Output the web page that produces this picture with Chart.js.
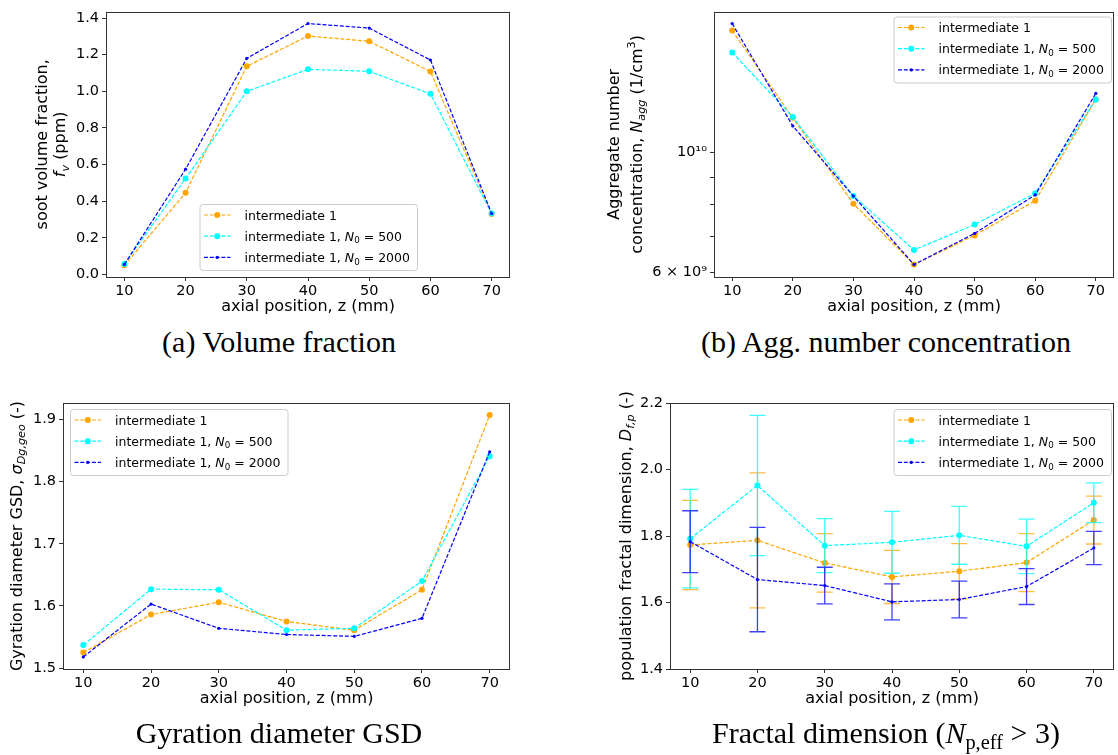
<!DOCTYPE html>
<html><head><meta charset="utf-8">
<script src="https://cdn.jsdelivr.net/npm/chart.js@4.4.1/dist/chart.umd.min.js"></script>
<style>
html,body{margin:0;padding:0;background:#fff;width:1118px;height:755px;overflow:hidden;position:relative;}
canvas{position:absolute;}
.cap{position:absolute;width:560px;text-align:center;font-family:"Liberation Serif","Times New Roman",serif;font-size:30px;line-height:30px;color:#000;white-space:nowrap;}
.cap sub{font-size:0.68em;line-height:0;vertical-align:-0.28em;}
</style></head><body>
<canvas id="ca" width="559" height="325" style="left:0;top:0"></canvas>
<canvas id="cb" width="559" height="325" style="left:559px;top:0"></canvas>
<canvas id="cc" width="559" height="340" style="left:0;top:378px"></canvas>
<canvas id="cd" width="559" height="340" style="left:559px;top:378px"></canvas>
<div class="cap" style="left:-1px;top:327px">(a) Volume fraction</div>
<div class="cap" style="left:606px;top:327px">(b) Agg. number concentration</div>
<div class="cap" style="left:-1px;top:718px">Gyration diameter GSD</div>
<div class="cap" style="left:606px;top:718px">Fractal dimension (<i>N</i><sub>p,eff</sub> &gt; 3)</div>
<script>
// ---------------- data ----------------
const Z = [10, 20, 30, 40, 50, 60, 70];
const xTicks = [10, 20, 30, 40, 50, 60, 70];

// (a) soot volume fraction (ppm)
const fvInt1  = [0.050, 0.446, 1.137, 1.302, 1.273, 1.108, 0.330];
const fvN500  = [0.058, 0.524, 1.000, 1.120, 1.109, 0.986, 0.333];
const fvN2000 = [0.055, 0.575, 1.180, 1.370, 1.345, 1.171, 0.333];
const fvTicks = [0.0, 0.2, 0.4, 0.6, 0.8, 1.0, 1.2, 1.4];

// (b) aggregate number concentration (1/cm3)
const naggInt1  = [1.68e10, 1.158e10, 8.03e9, 6.20e9, 7.02e9, 8.14e9, 1.252e10];
const naggN500  = [1.53e10, 1.162e10, 8.30e9, 6.60e9, 7.35e9, 8.40e9, 1.252e10];
const naggN2000 = [1.73e10, 1.119e10, 8.30e9, 6.20e9, 7.08e9, 8.34e9, 1.285e10];
const naggTicks = [6e9, 7e9, 8e9, 9e9, 1e10];
const naggTickLabels = ['6 × 10⁹', '', '', '', '10¹⁰'];

// (c) gyration diameter GSD
const gsdInt1  = [1.525, 1.586, 1.606, 1.575, 1.561, 1.626, 1.907];
const gsdN500  = [1.537, 1.627, 1.626, 1.561, 1.564, 1.640, 1.841];
const gsdN2000 = [1.518, 1.603, 1.564, 1.554, 1.551, 1.580, 1.848];
const gsdTicks = [1.5, 1.6, 1.7, 1.8, 1.9];

// (d) population fractal dimension with error bars
const dfInt1     = [1.773, 1.787, 1.719, 1.677, 1.694, 1.720, 1.848];
const dfInt1Err  = [0.134, 0.203, 0.088, 0.080, 0.083, 0.087, 0.072];
const dfN500     = [1.792, 1.952, 1.771, 1.781, 1.802, 1.769, 1.900];
const dfN500Err  = [0.148, 0.211, 0.081, 0.093, 0.087, 0.082, 0.060];
const dfN2000    = [1.783, 1.669, 1.651, 1.602, 1.609, 1.648, 1.764];
const dfN2000Err = [0.093, 0.157, 0.055, 0.054, 0.055, 0.054, 0.050];
const dfTicks = [1.4, 1.6, 1.8, 2.0, 2.2];

const seriesLabels = [
  [{t: 'intermediate 1'}],
  [{t: 'intermediate 1, '}, {t: 'N', i: 1}, {t: '0', s: 'sub'}, {t: ' = 500'}],
  [{t: 'intermediate 1, '}, {t: 'N', i: 1}, {t: '0', s: 'sub'}, {t: ' = 2000'}]
];
const seriesColors = ['#ffa500', '#00ffff', '#0000ff'];
const seriesRadius = [3, 3, 1.6];

// ---------------- drawing helpers ----------------
const FONT = '"DejaVu Sans", sans-serif';
function segFont(seg, size) {
  const fs = seg.s ? size * 0.7 : size;
  return (seg.i ? 'italic ' : '') + fs + 'px ' + FONT;
}
function richWidth(ctx, segs, size) {
  let w = 0;
  for (const s of segs) { ctx.font = segFont(s, size); w += ctx.measureText(s.t).width; }
  return w;
}
function drawRich(ctx, segs, x, y, size, align) {
  let w = richWidth(ctx, segs, size);
  let cx = align === 'center' ? x - w / 2 : x;
  ctx.textBaseline = 'alphabetic';
  ctx.textAlign = 'left';
  ctx.fillStyle = '#000';
  for (const s of segs) {
    ctx.font = segFont(s, size);
    const dy = s.s === 'sub' ? size * 0.22 : (s.s === 'sup' ? -size * 0.42 : 0);
    ctx.fillText(s.t, cx, y + dy);
    cx += ctx.measureText(s.t).width;
  }
}

function makePanel(id, spec) {
  const ctx0 = document.getElementById(id);
  const W = ctx0.width, H = ctx0.height;
  const datasets = spec.values.map((vals, k) => ({
    data: Z.map((z, i) => ({x: z, y: vals[i]})),
    borderColor: seriesColors[k],
    backgroundColor: seriesColors[k],
    pointBackgroundColor: seriesColors[k],
    pointBorderWidth: 0,
    pointRadius: seriesRadius[k],
    borderWidth: 1.2,
    borderDash: [4, 1.8],
    fill: false,
    tension: 0,
    order: 3 - k
  }));
  const tickFont = {family: FONT, size: 14.5};
  const deco = {
    id: 'deco',
    beforeDatasetDraw(chart, args) {
      if (!spec.errors) return;
      const k = args.index;
      const ctx = chart.ctx, xs = chart.scales.x, ys = chart.scales.y;
      const vals = spec.values[k], errs = spec.errors[k];
      ctx.save();
      ctx.globalAlpha = 0.75;
      ctx.strokeStyle = seriesColors[k];
      ctx.lineWidth = 1.3;
      for (let i = 0; i < Z.length; i++) {
        const px = xs.getPixelForValue(Z[i]);
        const y1 = ys.getPixelForValue(vals[i] - errs[i]);
        const y2 = ys.getPixelForValue(vals[i] + errs[i]);
        ctx.beginPath();
        ctx.moveTo(px, y1); ctx.lineTo(px, y2);
        ctx.moveTo(px - 8, y1); ctx.lineTo(px + 8, y1);
        ctx.moveTo(px - 8, y2); ctx.lineTo(px + 8, y2);
        ctx.stroke();
      }
      ctx.restore();
    },
    afterDatasetsDraw(chart) {
      const ctx = chart.ctx, a = chart.chartArea;
      ctx.save();
      ctx.strokeStyle = '#333';
      ctx.lineWidth = 1;
      ctx.strokeRect(Math.round(a.left) + 0.5, Math.round(a.top) + 0.5,
        Math.round(a.right) - Math.round(a.left) - 1, Math.round(a.bottom) - Math.round(a.top));
      ctx.restore();
    },
    afterDraw(chart) {
      const ctx = chart.ctx, a = chart.chartArea;
      ctx.save();
      // legend
      const L = spec.legend;
      const lw = 217.5, lh = 66;
      ctx.fillStyle = 'rgba(255,255,255,0.8)';
      ctx.strokeStyle = '#cccccc';
      ctx.lineWidth = 1;
      ctx.beginPath();
      ctx.roundRect(L.x + 0.5, L.y + 0.5, lw, lh, 3);
      ctx.fill(); ctx.stroke();
      for (let k = 0; k < 3; k++) {
        const ry = L.y + 11 + 21.2 * k;
        ctx.strokeStyle = seriesColors[k];
        ctx.lineWidth = 1.2;
        ctx.setLineDash([4, 1.8]);
        ctx.beginPath(); ctx.moveTo(L.x + 4.5, ry); ctx.lineTo(L.x + 31, ry); ctx.stroke();
        ctx.setLineDash([]);
        ctx.fillStyle = seriesColors[k];
        ctx.beginPath(); ctx.arc(L.x + 17.75, ry, seriesRadius[k], 0, Math.PI * 2); ctx.fill();
        drawRich(ctx, seriesLabels[k], L.x + 45, ry + 4.5, 12.5, 'left');
      }
      // x title
      drawRich(ctx, [{t: 'axial position, z (mm)'}], (a.left + a.right) / 2, a.bottom + 33.5, 16, 'center');
      // y title
      const cy = (a.top + a.bottom) / 2;
      for (const line of spec.yTitle) {
        ctx.save();
        ctx.translate(line.x, cy);
        ctx.rotate(-Math.PI / 2);
        drawRich(ctx, line.segs, 0, 16 * 0.36, 16, 'center');
        ctx.restore();
      }
      ctx.restore();
    }
  };
  return new Chart(ctx0, {
    type: 'line',
    data: {datasets},
    options: {
      responsive: false,
      animation: false,
      devicePixelRatio: 1,
      layout: {padding: {left: 0, top: spec.area.t, right: W - spec.area.r, bottom: 0}},
      plugins: {legend: {display: false}, tooltip: {enabled: false}},
      elements: {line: {borderJoinStyle: 'miter'}},
      scales: {
        x: {
          type: 'linear', min: 7, max: 73,
          afterBuildTicks: s => { s.ticks = xTicks.map(v => ({value: v})); },
          afterFit: s => { s.height = H - spec.area.b; },
          ticks: {font: tickFont, color: '#000', padding: 2, maxRotation: 0, autoSkip: false},
          grid: {display: true, drawOnChartArea: false, drawTicks: true, tickLength: 4, color: '#333'},
          border: {display: false}
        },
        y: {
          type: spec.yType, min: spec.yMin, max: spec.yMax,
          afterBuildTicks: s => { s.ticks = spec.yTicks.map(v => ({value: v})); },
          afterFit: s => { s.width = spec.area.l; },
          ticks: {font: tickFont, color: '#000', padding: 3, autoSkip: false, callback: spec.yFmt},
          grid: {display: true, drawOnChartArea: false, drawTicks: true, tickLength: 4, color: '#333'},
          border: {display: false}
        }
      }
    },
    plugins: [deco]
  });
}

const fmt1 = v => Number(v).toFixed(1);

makePanel('ca', {
  area: {l: 106, r: 510, t: 11, b: 277},
  values: [fvInt1, fvN500, fvN2000],
  yType: 'linear', yMin: -0.0135, yMax: 1.4345, yTicks: fvTicks, yFmt: fmt1,
  legend: {x: 199.5, y: 204},
  yTitle: [
    {x: 41.7, segs: [{t: 'soot volume fraction,'}]},
    {x: 59.3, segs: [{t: 'f', i: 1}, {t: 'v', i: 1, s: 'sub'}, {t: ' (ppm)'}]}
  ]
});

makePanel('cb', {
  area: {l: 155, r: 558, t: 11, b: 277},
  values: [naggInt1, naggN500, naggN2000],
  yType: 'logarithmic', yMin: 5.88e9, yMax: 1.82e10, yTicks: naggTicks,
  yFmt: (v, i) => naggTickLabels[i],
  legend: {x: 334.5, y: 16.5},
  yTitle: [
    {x: 54.3, segs: [{t: 'Aggregate number'}]},
    {x: 77, segs: [{t: 'concentration, '}, {t: 'N', i: 1}, {t: 'agg', i: 1, s: 'sub'}, {t: ' (1/cm'}, {t: '3', s: 'sup'}, {t: ')'}]}
  ]
});

makePanel('cc', {
  area: {l: 63, r: 510, t: 25, b: 291},
  values: [gsdInt1, gsdN500, gsdN2000],
  yType: 'linear', yMin: 1.4985, yMax: 1.9265, yTicks: gsdTicks, yFmt: fmt1,
  legend: {x: 70, y: 31},
  yTitle: [
    {x: 16, segs: [{t: 'Gyration diameter GSD, '}, {t: 'σ', i: 1}, {t: 'Dg,geo', i: 1, s: 'sub'}, {t: ' (-)'}]}
  ]
});

makePanel('cd', {
  area: {l: 111, r: 558, t: 25, b: 291},
  values: [dfInt1, dfN500, dfN2000],
  errors: [dfInt1Err, dfN500Err, dfN2000Err],
  yType: 'linear', yMin: 1.4, yMax: 2.2, yTicks: dfTicks, yFmt: fmt1,
  legend: {x: 334.5, y: 31},
  yTitle: [
    {x: 66, segs: [{t: 'population fractal dimension, '}, {t: 'D', i: 1}, {t: 'f,p', i: 1, s: 'sub'}, {t: ' (-)'}]}
  ]
});
</script>
</body></html>
